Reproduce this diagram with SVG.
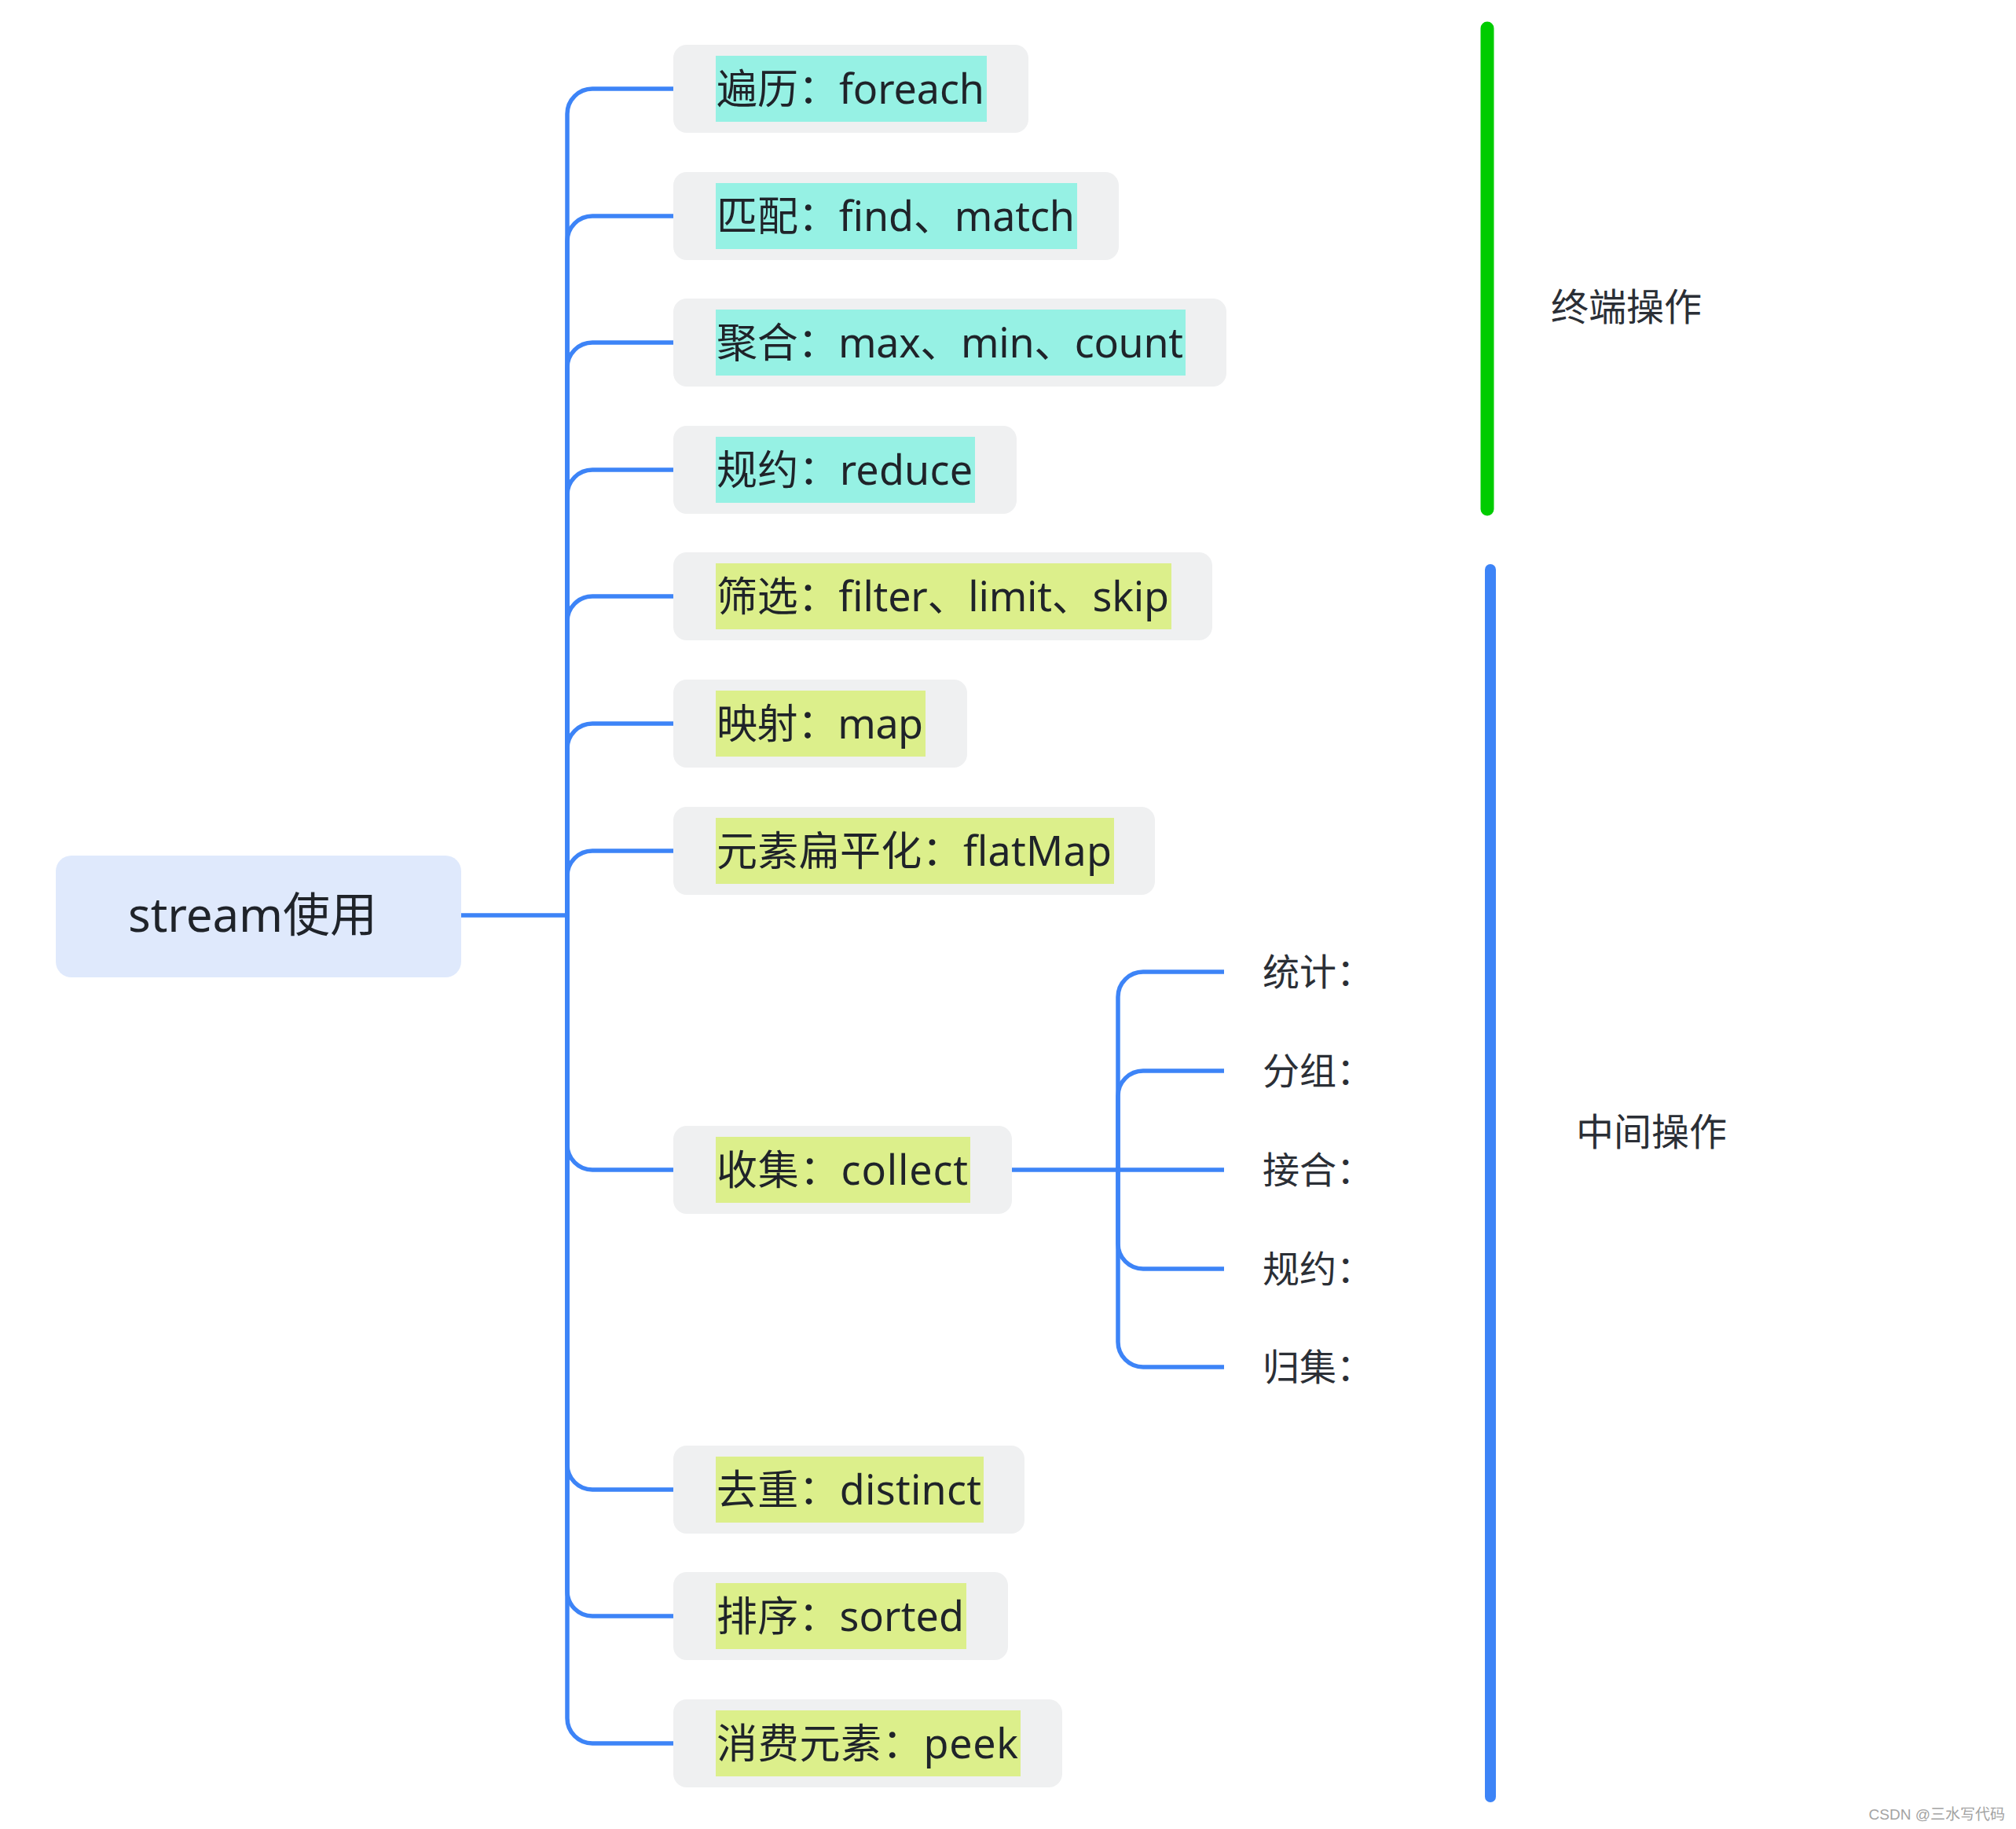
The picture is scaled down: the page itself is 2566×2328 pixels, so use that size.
<svg xmlns="http://www.w3.org/2000/svg" width="2566" height="2328" viewBox="0 0 2566 2328">
<style>
.box{fill:#eff0f1}
.hc{fill:#96f1e4}
.hy{fill:#dcef8b}
.lbl{font-family:'Noto Sans','Noto Sans CJK SC',sans-serif;font-size:52px;fill:#1f2329}
.sub{font-family:'Noto Sans','Noto Sans CJK SC',sans-serif;font-size:47px;fill:#2b2f36}
.side{font-family:'Noto Sans','Noto Sans CJK SC',sans-serif;font-size:48px;fill:#2b2f36}
.link{fill:none;stroke:#3d84f7;stroke-width:5.5}
</style>
<rect width="2566" height="2328" fill="#ffffff"/>
<g id="connectors">
<path class="link" d="M587,1165 H722"/>
<path class="link" d="M722,1165 V145 A32,32 0 0 1 754,113 H857"/>
<path class="link" d="M722,1165 V307 A32,32 0 0 1 754,275 H857"/>
<path class="link" d="M722,1165 V468 A32,32 0 0 1 754,436 H857"/>
<path class="link" d="M722,1165 V630 A32,32 0 0 1 754,598 H857"/>
<path class="link" d="M722,1165 V791 A32,32 0 0 1 754,759 H857"/>
<path class="link" d="M722,1165 V953 A32,32 0 0 1 754,921 H857"/>
<path class="link" d="M722,1165 V1115 A32,32 0 0 1 754,1083 H857"/>
<path class="link" d="M722,1165 V1457 A32,32 0 0 0 754,1489 H857"/>
<path class="link" d="M722,1165 V1864 A32,32 0 0 0 754,1896 H857"/>
<path class="link" d="M722,1165 V2025 A32,32 0 0 0 754,2057 H857"/>
<path class="link" d="M722,1165 V2187 A32,32 0 0 0 754,2219 H857"/>
<path class="link" d="M1288,1489 H1558"/>
<path class="link" d="M1423,1489 V1269 A32,32 0 0 1 1455,1237 H1558"/>
<path class="link" d="M1423,1489 V1395 A32,32 0 0 1 1455,1363 H1558"/>
<path class="link" d="M1423,1489 V1583 A32,32 0 0 0 1455,1615 H1558"/>
<path class="link" d="M1423,1489 V1708 A32,32 0 0 0 1455,1740 H1558"/>
</g>
<g id="root">
<rect x="71" y="1089" width="516" height="155" rx="20" fill="#dfe9fc"/>
<text x="163" y="1186" textLength="317" lengthAdjust="spacing" font-family="'Noto Sans','Noto Sans CJK SC',sans-serif" font-size="60" fill="#1f2329">stream使用</text>
</g>
<g id="n-foreach">
<rect class="box" x="857" y="57" width="452" height="112" rx="17"/>
<rect class="hc" x="911" y="71" width="345" height="84"/>
<text class="lbl" x="912" y="132" textLength="341" lengthAdjust="spacing">遍历：foreach</text>
</g>
<g id="n-match">
<rect class="box" x="857" y="219" width="567" height="112" rx="17"/>
<rect class="hc" x="911" y="233" width="460" height="84"/>
<text class="lbl" x="912" y="294" textLength="456" lengthAdjust="spacing">匹配：find、match</text>
</g>
<g id="n-count">
<rect class="box" x="857" y="380" width="704" height="112" rx="17"/>
<rect class="hc" x="911" y="394" width="598" height="84"/>
<text class="lbl" x="912" y="455" textLength="594" lengthAdjust="spacing">聚合：max、min、count</text>
</g>
<g id="n-reduce">
<rect class="box" x="857" y="542" width="437" height="112" rx="17"/>
<rect class="hc" x="911" y="556" width="330" height="84"/>
<text class="lbl" x="912" y="617" textLength="326" lengthAdjust="spacing">规约：reduce</text>
</g>
<g id="n-filter">
<rect class="box" x="857" y="703" width="686" height="112" rx="17"/>
<rect class="hy" x="911" y="717" width="580" height="84"/>
<text class="lbl" x="912" y="778" textLength="576" lengthAdjust="spacing">筛选：filter、limit、skip</text>
</g>
<g id="n-map">
<rect class="box" x="857" y="865" width="374" height="112" rx="17"/>
<rect class="hy" x="911" y="879" width="267" height="84"/>
<text class="lbl" x="912" y="940" textLength="263" lengthAdjust="spacing">映射：map</text>
</g>
<g id="n-flatmap">
<rect class="box" x="857" y="1027" width="613" height="112" rx="17"/>
<rect class="hy" x="911" y="1041" width="507" height="84"/>
<text class="lbl" x="912" y="1102" textLength="503" lengthAdjust="spacing">元素扁平化：flatMap</text>
</g>
<g id="n-collect">
<rect class="box" x="857" y="1433" width="431" height="112" rx="17"/>
<rect class="hy" x="911" y="1447" width="324" height="84"/>
<text class="lbl" x="912" y="1508" textLength="320" lengthAdjust="spacing">收集：collect</text>
</g>
<g id="n-distinct">
<rect class="box" x="857" y="1840" width="447" height="112" rx="17"/>
<rect class="hy" x="911" y="1854" width="341" height="84"/>
<text class="lbl" x="912" y="1915" textLength="337" lengthAdjust="spacing">去重：distinct</text>
</g>
<g id="n-sorted">
<rect class="box" x="857" y="2001" width="426" height="112" rx="17"/>
<rect class="hy" x="911" y="2015" width="319" height="84"/>
<text class="lbl" x="912" y="2076" textLength="315" lengthAdjust="spacing">排序：sorted</text>
</g>
<g id="n-peek">
<rect class="box" x="857" y="2163" width="495" height="112" rx="17"/>
<rect class="hy" x="911" y="2177" width="388" height="84"/>
<text class="lbl" x="912" y="2238" textLength="384" lengthAdjust="spacing">消费元素：peek</text>
</g>
<g id="s-tongji"><text class="sub" x="1607" y="1254">统计：</text></g>
<g id="s-fenzu"><text class="sub" x="1607" y="1380">分组：</text></g>
<g id="s-jiehe"><text class="sub" x="1607" y="1506">接合：</text></g>
<g id="s-guiyue"><text class="sub" x="1607" y="1632">规约：</text></g>
<g id="s-guiji"><text class="sub" x="1607" y="1757">归集：</text></g>
<g id="bracket-terminal">
<line x1="1893" y1="36" x2="1893" y2="648" stroke="#00cc00" stroke-width="17" stroke-linecap="round"/>
<text class="side" x="1974" y="408">终端操作</text>
</g>
<g id="bracket-intermediate">
<line x1="1897" y1="725" x2="1897" y2="2287" stroke="#3d84f7" stroke-width="14" stroke-linecap="round"/>
<text class="side" x="2006" y="1458">中间操作</text>
</g>
<text x="2552" y="2316" text-anchor="end" font-family="'Liberation Sans','Noto Sans CJK SC',sans-serif" font-size="19" fill="#a3a3a3">CSDN @三水写代码</text>
</svg>
